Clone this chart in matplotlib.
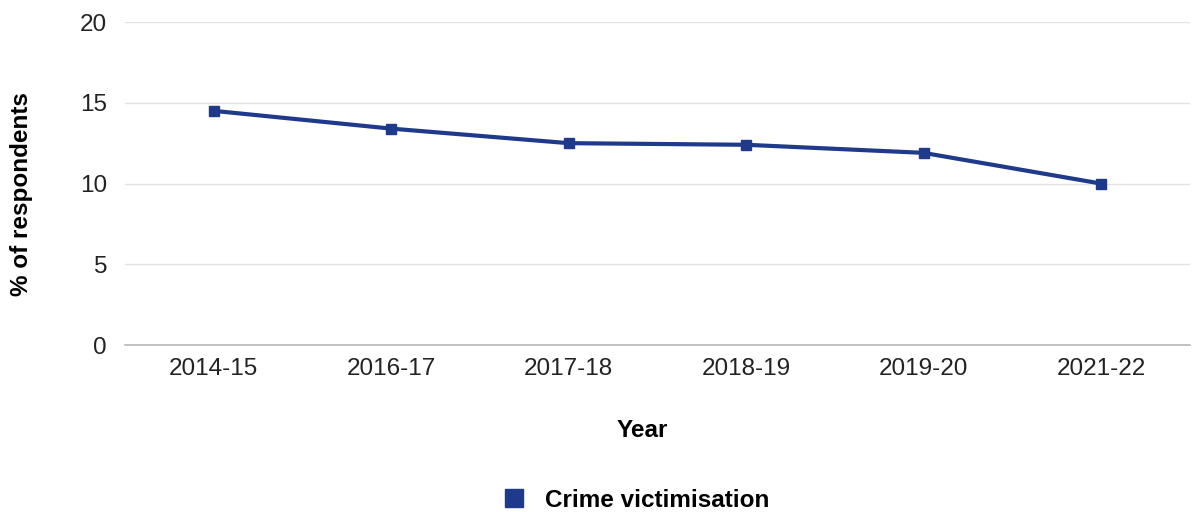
import matplotlib.pyplot as plt
from matplotlib.lines import Line2D

plt.rcParams["font.family"] = ["Liberation Sans", "DejaVu Sans"]

years = ["2014-15", "2016-17", "2017-18", "2018-19", "2019-20", "2021-22"]
crime_victimisation = [14.5, 13.4, 12.5, 12.4, 11.9, 10.0]
y_ticks = [0, 5, 10, 15, 20]

line_color = "#1f3a8a"
font_size = 17.5

fig = plt.figure(figsize=(11.92, 5.12), dpi=100)
ax = fig.add_axes([0.105, 0.326, 0.893, 0.631])

x = list(range(len(years)))
ax.plot(x, crime_victimisation, color=line_color, linewidth=3,
        marker="s", markersize=7, zorder=3)

ax.set_xlim(-0.5, len(years) - 0.5)
ax.set_ylim(0, 20)
ax.set_yticks(y_ticks)
ax.set_xticks(x)
ax.set_xticklabels(years)
ax.tick_params(axis="both", length=0, labelsize=font_size, colors="#222222")
ax.tick_params(axis="y", pad=13)
ax.tick_params(axis="x", pad=9)

ax.grid(axis="y", color="#e2e2e2", linewidth=1)
ax.set_axisbelow(True)
for side in ["top", "right", "left"]:
    ax.spines[side].set_visible(False)
ax.spines["bottom"].set_color("#b8b8b8")
ax.spines["bottom"].set_linewidth(1.2)

ax.set_ylabel("% of respondents", fontsize=font_size, fontweight="bold")
ax.yaxis.set_label_coords(-0.097, 0.467)
ax.set_xlabel("Year", fontsize=font_size, fontweight="bold")
ax.xaxis.set_label_coords(0.486, -0.263)
ax.xaxis.label.set_va("center")
ax.yaxis.label.set_va("center")

handle = Line2D([], [], color=line_color, marker="s", linestyle="none",
                markersize=13)
fig.legend([handle], ["Crime victimisation"], loc="center",
           bbox_to_anchor=(0.528, 0.023), frameon=False,
           prop={"weight": "bold", "size": font_size}, handletextpad=0.3)

fig.savefig("out.png", dpi=100)
